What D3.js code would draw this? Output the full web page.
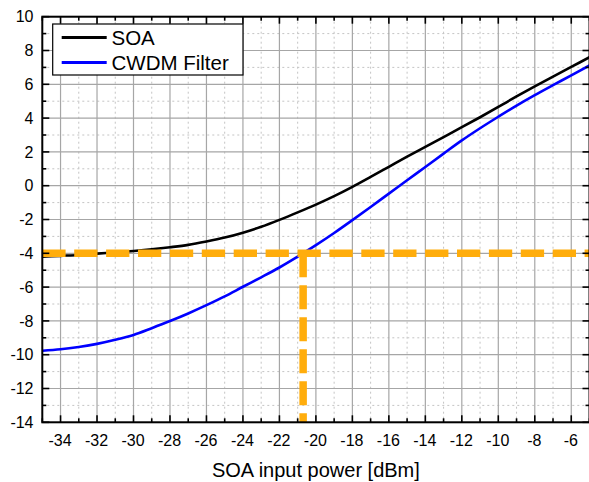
<!DOCTYPE html>
<html>
<head>
<meta charset="utf-8">
<script src="https://cdn.jsdelivr.net/npm/d3@7"></script>
<style>
  html, body { margin: 0; padding: 0; background: #fff; }
  svg { display: block; font-family: "Liberation Sans", Arial, sans-serif; }
</style>
</head>
<body>
<svg id="chart" width="589" height="482"></svg>
<script>
// SOA input power [dBm]
const inputPower = [-35, -34, -33, -32, -31, -30, -29, -28, -27, -26, -25, -24, -23, -22, -21,
                    -20, -19, -18, -17, -16, -15, -14, -13, -12, -11, -10, -9, -8, -7, -6, -5];
// Output power after the SOA
const soaOut = [-4.2, -4.15, -4.1, -4.02, -3.94, -3.86, -3.76, -3.64, -3.5, -3.3, -3.07, -2.78, -2.43, -2.02, -1.58,
                -1.12, -0.62, -0.07, 0.52, 1.12, 1.72, 2.3, 2.88, 3.46, 4.05, 4.66, 5.28, 5.88, 6.46, 7.03, 7.6];
// Output power after the CWDM filter
const cwdmOut = [-9.77, -9.68, -9.54, -9.36, -9.12, -8.83, -8.43, -8.01, -7.56, -7.07, -6.55, -5.98, -5.42, -4.84, -4.2,
                 -3.52, -2.8, -2.04, -1.26, -0.47, 0.32, 1.11, 1.9, 2.68, 3.4, 4.08, 4.74, 5.36, 5.95, 6.53, 7.12];
// Reference level and the input power where the filter output reaches it
const refLevel = -4;
const refInput = -20.7;

const xTicks = [-34, -32, -30, -28, -26, -24, -22, -20, -18, -16, -14, -12, -10, -8, -6];
const yTicks = [10, 8, 6, 4, 2, 0, -2, -4, -6, -8, -10, -12, -14];
const xMinor = d3.range(-35, -4, 1).filter(v => v % 2 !== 0);
const yMinor = d3.range(-13, 10, 2);

const seriesNames = ["SOA", "CWDM Filter"];
const seriesColors = ["#000000", "#0000ff"];

const svg = d3.select("#chart");
const pLeft = 42.3, pRight = 589.5, pTop = 16.7, pBottom = 422.3;

const x = d3.scaleLinear().domain([-35, -5]).range([pLeft, pRight]);
const y = d3.scaleLinear().domain([-14, 10]).range([pBottom, pTop]);

// grid
const grid = svg.append("g");
grid.selectAll(".vminor").data(xMinor).enter().append("line")
  .attr("x1", d => x(d)).attr("x2", d => x(d)).attr("y1", pTop).attr("y2", pBottom)
  .attr("stroke", "#c4c4c4").attr("stroke-width", 1).attr("stroke-dasharray", "2,3");
grid.selectAll(".hminor").data(yMinor).enter().append("line")
  .attr("y1", d => y(d)).attr("y2", d => y(d)).attr("x1", pLeft).attr("x2", pRight)
  .attr("stroke", "#c4c4c4").attr("stroke-width", 1).attr("stroke-dasharray", "2,3");
grid.selectAll(".vmajor").data(xTicks).enter().append("line")
  .attr("x1", d => x(d)).attr("x2", d => x(d)).attr("y1", pTop).attr("y2", pBottom)
  .attr("stroke", "#a6a6a6").attr("stroke-width", 1.2);
grid.selectAll(".hmajor").data(yTicks).enter().append("line")
  .attr("y1", d => y(d)).attr("y2", d => y(d)).attr("x1", pLeft).attr("x2", pRight)
  .attr("stroke", "#a6a6a6").attr("stroke-width", 1.2);

// curves
const line = d3.line().x(d => x(d[0])).y(d => y(d[1])).curve(d3.curveMonotoneX);
[soaOut, cwdmOut].forEach((vals, i) => {
  svg.append("path")
    .datum(inputPower.map((p, k) => [p, vals[k]]))
    .attr("fill", "none").attr("stroke", seriesColors[i])
    .attr("stroke-width", 2.6).attr("stroke-linejoin", "round")
    .attr("d", line);
});

// reference markers
const orange = "#ffad0c";
svg.append("line")
  .attr("x1", x(-35)).attr("x2", x(-5)).attr("y1", y(refLevel)).attr("y2", y(refLevel))
  .attr("stroke", orange).attr("stroke-width", 7.5).attr("stroke-dasharray", "23.3,8.6");
svg.append("line")
  .attr("x1", x(refInput)).attr("x2", x(refInput)).attr("y1", y(refLevel)).attr("y2", y(-14))
  .attr("stroke", orange).attr("stroke-width", 7.5).attr("stroke-dasharray", "24,8");

// axes with inward ticks
const axisG = svg.append("g");
const maj = 7, mnr = 4;
function ticksH(yPos, dir) {
  axisG.selectAll(null).data(xTicks).enter().append("line")
    .attr("x1", d => x(d)).attr("x2", d => x(d)).attr("y1", yPos).attr("y2", yPos + dir * maj)
    .attr("stroke", "#000").attr("stroke-width", 1.6);
  axisG.selectAll(null).data(xMinor).enter().append("line")
    .attr("x1", d => x(d)).attr("x2", d => x(d)).attr("y1", yPos).attr("y2", yPos + dir * mnr)
    .attr("stroke", "#000").attr("stroke-width", 1.6);
}
function ticksV(xPos, dir) {
  axisG.selectAll(null).data(yTicks).enter().append("line")
    .attr("y1", d => y(d)).attr("y2", d => y(d)).attr("x1", xPos).attr("x2", xPos + dir * maj)
    .attr("stroke", "#000").attr("stroke-width", 1.6);
  axisG.selectAll(null).data(yMinor).enter().append("line")
    .attr("y1", d => y(d)).attr("y2", d => y(d)).attr("x1", xPos).attr("x2", xPos + dir * mnr)
    .attr("stroke", "#000").attr("stroke-width", 1.6);
}
ticksH(pBottom, -1);
ticksH(pTop, 1);
ticksV(pLeft, 1);
ticksV(pRight, -1);

axisG.append("rect")
  .attr("x", pLeft).attr("y", pTop).attr("width", pRight - pLeft).attr("height", pBottom - pTop)
  .attr("fill", "none").attr("stroke", "#000").attr("stroke-width", 2);

// tick labels
svg.selectAll(".xl").data(xTicks).enter().append("text")
  .attr("x", d => x(d) - 0.5).attr("y", 445.5)
  .attr("text-anchor", "middle").attr("font-size", 16).attr("fill", "#000")
  .text(d => d);
svg.selectAll(".yl").data(yTicks).enter().append("text")
  .attr("x", 33.5).attr("y", d => y(d) + 5.7)
  .attr("text-anchor", "end").attr("font-size", 16).attr("fill", "#000")
  .text(d => d);

// axis title
svg.append("text")
  .attr("x", (pLeft + pRight) / 2).attr("y", 477)
  .attr("text-anchor", "middle").attr("font-size", 20).attr("fill", "#000")
  .text("SOA input power [dBm]");

// legend
const lg = svg.append("g");
lg.append("rect").attr("x", 52.7).attr("y", 24).attr("width", 190.3).attr("height", 51)
  .attr("fill", "#fff").attr("stroke", "#000").attr("stroke-width", 1.2);
seriesNames.forEach((name, i) => {
  const ly = 37.5 + i * 25;
  lg.append("line").attr("x1", 61.7).attr("x2", 106.7).attr("y1", ly).attr("y2", ly)
    .attr("stroke", seriesColors[i]).attr("stroke-width", 2.8);
  lg.append("text").attr("x", 111.5).attr("y", ly + 7.3)
    .attr("font-size", 20.5).attr("fill", "#000").text(name);
});
</script>
</body>
</html>
